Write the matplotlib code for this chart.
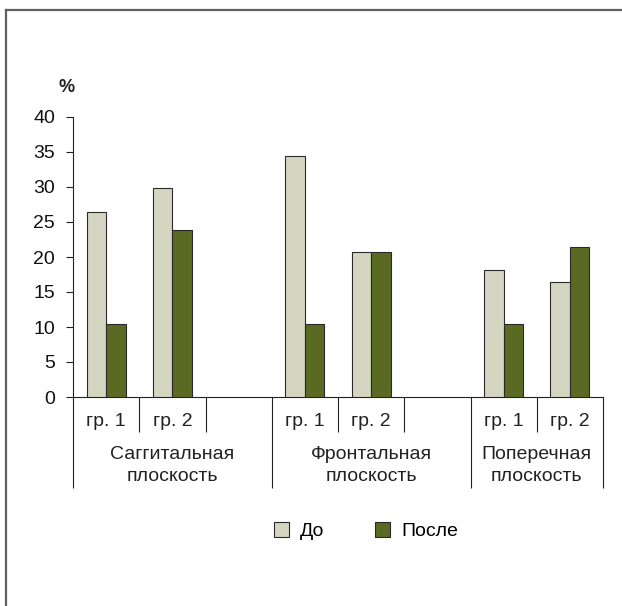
import matplotlib
matplotlib.use("Agg")
import matplotlib.pyplot as plt
from matplotlib.lines import Line2D
from matplotlib.patches import Patch

plt.rcParams['font.family'] = ['Liberation Sans', 'DejaVu Sans']

# data
groups = ["Саггитальная\nплоскость", "Фронтальная\nплоскость", "Поперечная\nплоскость"]
subgroups = ["гр. 1", "гр. 2"]
do_vals = [26.4, 29.9, 34.4, 20.7, 18.1, 16.4]
posle_vals = [10.4, 23.9, 10.4, 20.7, 10.4, 21.4]
series = ["До", "После"]
yticks = [0, 5, 10, 15, 20, 25, 30, 35, 40]

c_do = "#d5d6c2"
c_posle = "#5b6a22"
edge = "#2a2a2a"
fs = 14

# slot layout: each group = its subgroups + one empty slot (except last)
slots = []
spans = []
pos = 0
for gi in range(len(groups)):
    start = pos
    for sg in subgroups:
        slots.append((pos, sg))
        pos += 1
    if gi < len(groups) - 1:
        pos += 1
    spans.append((start, pos))
n_slots = pos

fig = plt.figure(figsize=(6.22, 6.06), dpi=100)
W, H = 622, 606
ax = fig.add_axes([73 / W, (H - 397) / H, (603 - 73) / W, 280 / H])

w = 0.295
xs = [s[0] + 0.5 for s in slots]
ax.bar([x - w for x in xs], do_vals, width=w, align='edge', color=c_do,
       edgecolor=edge, linewidth=0.8, zorder=3)
ax.bar(xs, posle_vals, width=w, align='edge', color=c_posle,
       edgecolor=edge, linewidth=0.8, zorder=3)

ax.set_xlim(0, n_slots)
ax.set_ylim(0, 40)
ax.set_yticks(yticks)
ax.tick_params(axis='y', direction='out', length=5, width=0.8, labelsize=fs,
               pad=8, colors='#222222')
ax.tick_params(axis='y', labelcolor='#111111')

major = sorted(set([s for s, e in spans] + [spans[-1][1]]))
minor = [p for p in range(n_slots + 1) if p not in major]
ax.set_xticks(major)
ax.set_xticks(minor, minor=True)
ax.set_xticklabels([])
ax.tick_params(axis='x', which='major', direction='out', length=65.5, width=0.8,
               color='#222222')
ax.tick_params(axis='x', which='minor', direction='out', length=25.5, width=0.8,
               color='#222222')

for sp in ['top', 'right']:
    ax.spines[sp].set_visible(False)
for sp in ['left', 'bottom']:
    ax.spines[sp].set_linewidth(0.8)
    ax.spines[sp].set_color('#222222')

tr = ax.get_xaxis_transform()
for x, (_, sg) in zip(xs, slots):
    ax.text(x, -24.5 / 280, sg, transform=tr, ha='center', va='center',
            fontsize=fs, color='#222222')
for (s, e), g in zip(spans, groups):
    ax.text((s + e) / 2, -68.5 / 280, g, transform=tr, ha='center', va='center',
            fontsize=fs, color='#222222', linespacing=1.35)

fig.text(67 / W, 1 - 88 / H, "%", ha='center', va='center', fontsize=13,
         fontweight='bold', color='#222222')

handles = [Patch(facecolor=c_do, edgecolor=edge, linewidth=0.8),
           Patch(facecolor=c_posle, edgecolor=edge, linewidth=0.8)]
fig.legend(handles, series, loc='center left', bbox_to_anchor=(256 / W, 1 - 531 / H),
           ncol=2, frameon=False, fontsize=fs, handlelength=0.8, handleheight=0.8,
           handletextpad=0.55, columnspacing=2.6)

# frame lines (top and left only)
fig.add_artist(Line2D([5.5 / W, 1], [1 - 9.5 / H, 1 - 9.5 / H], color='#606060',
                      linewidth=1.6, transform=fig.transFigure))
fig.add_artist(Line2D([5.5 / W, 5.5 / W], [0, 1 - 9.5 / H], color='#606060',
                      linewidth=1.6, transform=fig.transFigure))

fig.savefig("out.png", dpi=100)
